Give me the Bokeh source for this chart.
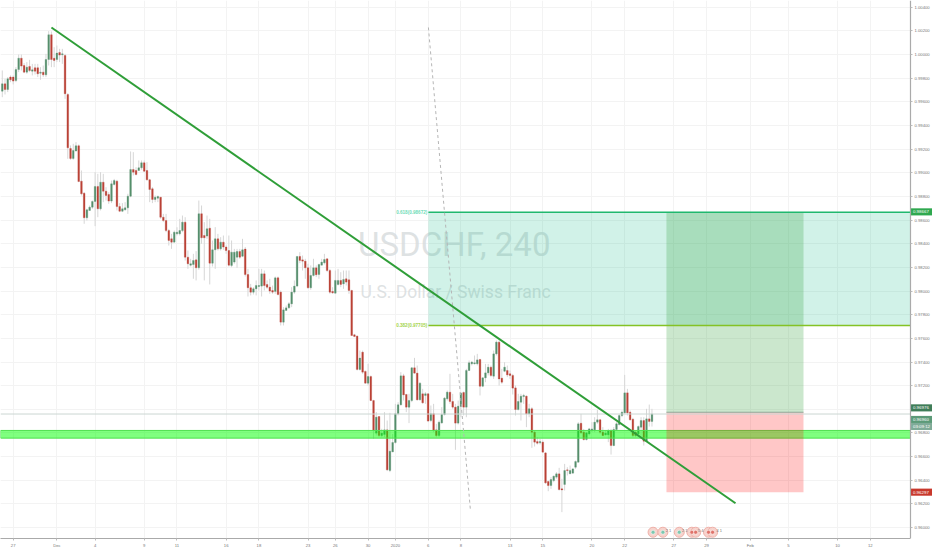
from bokeh.plotting import figure
from bokeh.embed import file_html
from bokeh.resources import INLINE
from bokeh.models import FixedTicker, Label
from bokeh.core.properties import value
import numpy as np

opens = [.99691,.99753,.99705,.99810,.99810,.99781,.99874,.99970,.99908,.99852,.99900,.99860,.99889,.99889,.99843,.99852,.99829,.99959,1.00168,.99970,
.99959,1.00018,.99999,.99993,.99663,.99206,.99122,.99184,.99229,.98930,.98828,.98620,.98682,.98710,.98758,.98885,.98696,.98921,.98845,.98817,
.98761,.98902,.98930,.98715,.98676,.98687,.98704,.98803,.99028,.99020,.99020,.99043,.99085,.99020,.98941,.98865,.98775,.98786,.98794,.98625,
.98597,.98512,.98442,.98414,.98484,.98484,.98512,.98583,.98287,.98219,.98225,.98264,.98197,.98654,.98470,.98465,.98532,.98236,.98349,.98442,
.98357,.98414,.98372,.98343,.98217,.98245,.98287,.98335,.98295,.98355,.98140,.98028,.97991,.98019,.98039,.98042,.98146,.98056,.98033,.98005,
.97997,.98112,.97991,.97737,.97836,.97858,.97892,.97991,.98042,.98293,.98264,.98253,.98197,.98028,.98132,.98197,.98140,.98219,.98239,.98273,
.98174,.97997,.97982,.98056,.98090,.98061,.98104,.98095,.98005,.97630,.97619,.97337,.97483,.97320,.97221,.97277,.97074,.96798,.96939,.96778,
.96787,.96826,.96482,.96640,.96719,.96962,.97038,.97283,.97125,.97018,.97074,.97351,.97306,.97080,.97131,.97117,.97131,.96905,.96962,.96826,
.96778,.96885,.96956,.97089,.97145,.97066,.97018,.96883,.97024,.97142,.97018,.97328,.97385,.97385,.97385,.97421,.97195,.97266,.97308,.97356,
.97280,.97469,.97568,.97263,.97322,.97328,.97300,.97286,.97181,.96998,.97060,.97108,.97111,.96961,.97004,.96806,.96727,.96716,.96722,.96631,
.96389,.96355,.96397,.96426,.96454,.96327,.96364,.96488,.96454,.96460,.96510,.96552,.96882,.96806,.96744,.96792,.96820,.96826,.96891,.96911,
.96806,.96784,.96784,.96820,.96693,.96829,.96871,.96947,.96970,.97139,.96975,.96916,.96806,.96792,.96849,.96905,.96730,.96919,.96897]

closes = [.99753,.99705,.99796,.99787,.99776,.99874,.99970,.99903,.99852,.99894,.99866,.99872,.99860,.99838,.99852,.99829,.99959,1.00168,.99959,.99951,
1.00013,.99996,1.00007,.99669,.99212,.99122,.99189,.99229,.98927,.98823,.98620,.98687,.98710,.98758,.98885,.98696,.98921,.98845,.98809,.98761,
.98907,.98935,.98715,.98676,.98696,.98704,.98803,.99028,.99006,.98986,.99043,.99085,.99014,.98941,.98859,.98775,.98794,.98800,.98625,.98597,
.98512,.98428,.98414,.98498,.98498,.98512,.98583,.98287,.98231,.98231,.98259,.98197,.98654,.98451,.98451,.98527,.98236,.98349,.98442,.98357,
.98414,.98372,.98343,.98219,.98329,.98329,.98335,.98287,.98349,.98140,.98028,.97991,.98019,.98047,.98047,.98146,.98047,.98033,.98000,.97991,
.98112,.97971,.97737,.97841,.97858,.97892,.97991,.98042,.98293,.98259,.98253,.98197,.98028,.98132,.98197,.98138,.98225,.98245,.98267,.98174,
.97991,.97985,.98090,.98090,.98056,.98098,.98076,.98005,.97624,.97616,.97337,.97433,.97314,.97221,.97277,.97074,.96821,.96933,.96778,.96798,
.96826,.96488,.96646,.96719,.96962,.97038,.97283,.97122,.97018,.97074,.97351,.97306,.97080,.97221,.97055,.97131,.96900,.96962,.96821,.96778,
.96891,.96956,.97094,.97145,.97066,.97018,.96883,.97026,.97136,.97018,.97328,.97393,.97399,.97393,.97418,.97195,.97266,.97308,.97356,.97286,
.97469,.97568,.97257,.97229,.97356,.97291,.97286,.97179,.96998,.97066,.97111,.97117,.96961,.97004,.96806,.96722,.96713,.96727,.96637,.96378,
.96355,.96406,.96434,.96454,.96321,.96318,.96482,.96482,.96482,.96496,.96558,.96877,.96801,.96744,.96801,.96834,.96834,.96891,.96911,.96806,
.96778,.96798,.96820,.96693,.96829,.96877,.96947,.96975,.97139,.96970,.96911,.96778,.96778,.96854,.96905,.96730,.96919,.96897,.96961]

highs = [.99866,.99796,.99810,.99824,.99824,.99894,1.00001,1.00001,.99928,.99937,.99956,.99922,.99922,.99922,.99894,.99908,1.00007,1.00199,1.00196,1.00063,
1.00077,1.00049,1.00049,1.00007,.99674,.99232,.99246,.99260,.99240,.99020,.98837,.98696,.98724,.98766,.99006,.98992,.99006,.98992,.98879,.98837,
.98935,.98949,.98941,.98744,.98744,.98752,.98823,.99181,.99175,.99048,.99105,.99105,.99105,.99091,.98949,.98879,.98809,.98809,.98794,.98653,
.98653,.98526,.98484,.98512,.98540,.98611,.98639,.98625,.98343,.98273,.98315,.98338,.98766,.98724,.98583,.98639,.98611,.98428,.98541,.98484,
.98456,.98470,.98386,.98470,.98428,.98357,.98357,.98357,.98442,.98372,.98188,.98061,.98033,.98090,.98188,.98188,.98174,.98090,.98104,.98047,
.98123,.98123,.98005,.97864,.97878,.97906,.98033,.98090,.98295,.98329,.98301,.98273,.98231,.98217,.98273,.98217,.98231,.98273,.98315,.98273,
.98188,.98033,.98174,.98188,.98160,.98174,.98174,.98174,.98011,.97638,.97624,.97497,.97497,.97328,.97385,.97286,.97080,.96976,.96942,.96835,
.96976,.96905,.96970,.96792,.97046,.97060,.97314,.97300,.97131,.97131,.97356,.97435,.97370,.97230,.97173,.97145,.97136,.97032,.97046,.96877,
.96905,.97018,.97103,.97159,.97300,.97131,.97046,.97074,.97145,.97151,.97342,.97413,.97407,.97455,.97469,.97427,.97272,.97384,.97384,.97370,
.97497,.97582,.97582,.97342,.97398,.97370,.97328,.97300,.97201,.97131,.97131,.97131,.97117,.97046,.97018,.96820,.96764,.96750,.96736,.96637,
.96397,.96426,.96440,.96468,.96505,.96412,.96538,.96510,.96524,.96496,.96567,.96891,.96961,.96834,.96806,.96843,.96891,.96933,.96995,.96919,
.96849,.96820,.96834,.96834,.96849,.96891,.96961,.96990,.97291,.97173,.96990,.96928,.96820,.96863,.96933,.96933,.97004,.97040,.97004]

lows = [.99640,.99663,.99683,.99767,.99748,.99767,.99852,.99866,.99843,.99838,.99852,.99824,.99832,.99810,.99787,.99810,.99810,.99908,.99894,.99894,
.99937,.99937,.99922,.99626,.99119,.99110,.99110,.99184,.98921,.98809,.98569,.98597,.98682,.98696,.98549,.98625,.98682,.98752,.98766,.98738,
.98744,.98893,.98682,.98668,.98668,.98682,.98653,.98794,.98978,.98978,.99020,.99026,.99006,.98935,.98752,.98744,.98752,.98752,.98611,.98583,
.98498,.98385,.98357,.98414,.98470,.98470,.98498,.98258,.98188,.98208,.98104,.98090,.98180,.98400,.98090,.98442,.98056,.98208,.98188,.98343,
.98343,.98349,.98315,.98208,.98202,.98231,.98197,.98273,.98287,.98123,.97954,.97963,.97971,.97963,.98005,.97954,.98005,.98019,.97977,.97977,
.97977,.97963,.97709,.97709,.97836,.97850,.97864,.97977,.98033,.98236,.98174,.98104,.98019,.98011,.98123,.98118,.98104,.98217,.98225,.98160,
.97977,.97977,.97977,.98047,.98033,.98019,.98047,.97977,.97624,.97610,.97328,.97328,.97300,.97215,.97201,.97069,.96750,.96778,.96764,.96764,
.96764,.96477,.96468,.96637,.96708,.96948,.97032,.97074,.96976,.96883,.97060,.97300,.97074,.97074,.97046,.97046,.96891,.96891,.96806,.96764,
.96764,.96877,.96948,.97074,.97046,.97004,.96657,.96871,.96933,.96948,.96933,.97323,.97371,.97379,.97371,.97117,.97187,.97229,.97286,.97272,
.97257,.97455,.97201,.97215,.97314,.97272,.97257,.97125,.96947,.96990,.96905,.97046,.96849,.96933,.96674,.96685,.96702,.96702,.96637,.96369,
.96307,.96327,.96383,.96412,.96313,.96130,.96313,.96440,.96454,.96454,.96496,.96552,.96792,.96736,.96736,.96778,.96806,.96806,.96877,.96792,
.96778,.96778,.96722,.96617,.96688,.96820,.96863,.96933,.96961,.96947,.96905,.96764,.96764,.96778,.96778,.96693,.96722,.96854,.96854]

first_bar = -4
tick_bars = [0, 16, 30, 48, 60, 78, 90, 108, 118, 130, 140, 152, 164, 182, 194, 212, 224, 242, 254, 270, 284, 302, 314]
tick_names = ["27", "Dec", "4", "9", "11", "16", "18", "23", "26", "30", "2020", "6", "8", "13", "15", "20", "22", "27", "29", "Feb", "5", "10", "12"]
price_ticks = [0.96 + 0.002 * i for i in range(23)]

x_start, x_end, x_max = -4.652, 328.7, 336.76
y_start, y_end = 0.95907, 1.00458

trend_x, trend_y = [14.0, 264.6], [1.0023, 0.96205]
dash_x, dash_y = [152.1, 167.5], [1.0023, 0.96144]
band_low, band_high = 0.96756, 0.96821
fib_left = 152.1
fib_618, fib_382 = 0.98667, 0.97709
last_price = 0.96960
pos_left, pos_right = 239.3, 289.5
pos_entry, pos_stop = 0.96975, 0.96299
event_bars = [234.4, 238.0, 244.0, 248.6, 250.0, 254.7, 256.2]
event_level = 0.95960
event_core = ["#7cc8b0", "#7cc8b0", "#7cc8b0", "#e0736a", "#e0736a", "#e0736a", "#e0736a"]
event_text_bars = [239.0, 245.0, 250.8, 257.6]
event_texts = ["2 1", "2 1", "5 4", "4 1"]
tag_texts = ["0.98667", "0.96976", "0.96960", "03:09:12", "0.96297"]
tag_prices = [0.98670, 0.97012, 0.96914, 0.96855, 0.96299]
tag_colors = ["#2fa84f", "#3f7d58", "#5c9a78", "#7fab98", "#c8382c"]

o, c, h, l = map(np.array, (opens, closes, highs, lows))
bars = np.arange(first_bar, first_bar + len(o))
up = c >= o
colors = np.where(up, "#568f6c", "#bb4236")

p = figure(width=932, height=550, frame_width=932, frame_height=538,
           x_range=(x_start, x_max), y_range=(y_start, y_end),
           output_backend="svg", toolbar_location=None, y_axis_location="right",
           min_border_left=0, min_border_top=0, min_border_right=0, min_border_bottom=12,
           background_fill_color="white", border_fill_color="white", outline_line_color=None)

p.xaxis.ticker = FixedTicker(ticks=tick_bars)
p.xaxis.major_label_overrides = dict(zip(tick_bars, tick_names))
p.xaxis.bounds = (x_start, x_end)
p.yaxis.ticker = FixedTicker(ticks=price_ticks)
p.yaxis.major_label_overrides = {t: f"{t:.5f}" for t in price_ticks}
p.yaxis.fixed_location = x_end
for ax in (p.xaxis[0], p.yaxis[0]):
    ax.axis_line_color = "#aaaaaa"
    ax.axis_line_width = 1.2
    ax.major_tick_line_color = "#bbbbbb"
    ax.major_tick_in = 0
    ax.major_tick_out = 2
    ax.minor_tick_line_color = None
    ax.major_label_text_font = "Liberation Sans"
    ax.major_label_text_font_size = "4.2px"
    ax.major_label_text_color = "#777777"
    ax.major_label_standoff = 2
p.grid.grid_line_color = "#f3f3f3"
p.grid.grid_line_width = 1

for txt, bx, pr, size in (("USDCHF, 240", 126.3, 0.98225, "33px"), ("U.S. Dollar / Swiss Franc", 127.2, 0.97905, "17.5px")):
    p.add_layout(Label(x=bx, y=pr, text=txt, text_font="Roboto", text_font_size=size,
                       text_color="#d6dadc", text_alpha=0.8, level="underlay"))

# price-scale gutter hides the grid
p.quad(left=x_end, right=x_max, bottom=y_start, top=y_end, fill_color="white", line_color=None)

# Fibonacci zone
p.quad(left=fib_left, right=x_end, bottom=fib_382, top=fib_618, fill_color="#1bbf8a", fill_alpha=0.2, line_color=None)

# candles
p.segment(bars, l, bars, h, line_color="#d6d6d6", line_width=1)
p.vbar(bars, width=0.62, bottom=np.minimum(o, c), top=np.maximum(o, c), fill_color=colors, line_color=colors, line_width=0.3)

# support band
p.quad(left=x_start, right=x_end, bottom=band_low, top=band_high, fill_color="#00ff00", fill_alpha=0.5,
       line_color="#4fe04f", line_width=1)

# long position
p.quad(left=pos_left, right=pos_right, bottom=pos_entry, top=fib_618, fill_color="#2e9e36", fill_alpha=0.25, line_color=None)
p.quad(left=pos_left, right=pos_right, bottom=pos_stop, top=pos_entry, fill_color="#ff0000", fill_alpha=0.22, line_color=None)
p.line([pos_left, pos_right], [pos_entry, pos_entry], line_color="#8fa89a", line_width=1)

# last price line
p.line([x_start, x_end], [last_price, last_price], line_color="#ccd6d2", line_width=1)

# fib lines and labels
p.line([fib_left, x_end], [fib_618, fib_618], line_color="#1fb86e", line_width=1.6)
p.line([fib_left, x_end], [fib_382, fib_382], line_color="#84c225", line_width=1.6)
p.text([fib_left - 0.4, fib_left - 0.4], [fib_618, fib_382], text=["0.618(0.98672)", "0.382(0.97705)"],
       text_align="right", text_baseline="middle", text_font=value("Liberation Sans"), text_font_size="4.6px",
       text_color=["#6fdcb8", "#a4d44e"], text_font_style="bold")

# dashed line and trend line
p.line(dash_x, dash_y, line_color="#b5b5b5", line_width=1, line_dash="3 3")
p.line(trend_x, trend_y, line_color="#2f9e38", line_width=2)

# events
p.scatter(event_bars, [event_level] * len(event_bars), size=10, fill_color="#f6d3cd", line_color="#eeb0a8", line_width=1)
p.scatter(event_bars, [event_level] * len(event_bars), size=4, fill_color=event_core, line_color="white", line_width=0.5)
p.text(event_text_bars, [event_level + 0.00016] * len(event_text_bars), text=event_texts, text_font=value("Liberation Sans"),
       text_font_size="4px", text_color="#777777", text_baseline="middle")

# price tags on the axis
tp = np.array(tag_prices)
p.quad(left=x_end + 0.2, right=x_max, bottom=tp - 0.0003, top=tp + 0.0003, fill_color=tag_colors, line_color=None, level="overlay")
p.text([x_end + 0.9] * len(tp), tp, text=tag_texts, text_font=value("Liberation Sans"), text_font_size="4.4px",
       text_color="white", text_baseline="middle", level="overlay")

open("out.html", "w").write(file_html(p, INLINE))
